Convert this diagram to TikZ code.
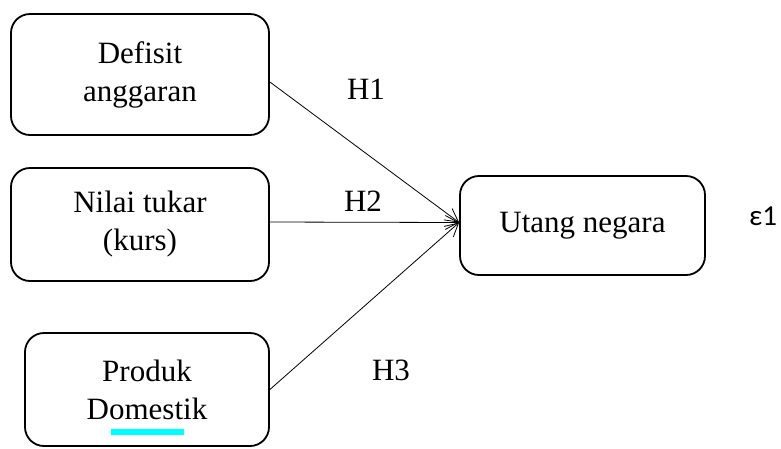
\documentclass[tikz,border=0pt]{standalone}
\usepackage{fontspec}
\setmainfont{Liberation Serif}
\newfontfamily\epsfont{Carlito}
\usetikzlibrary{arrows.meta}
\definecolor{spellmark}{RGB}{0,255,255}

\begin{document}
\begin{tikzpicture}[x=1pt, y=-1pt]
\tikzset{box/.style = {shape=rectangle, draw, line width=1.8pt, rounded corners=19pt, align=center, font=\fontsize{31}{38}\selectfont}}
    \tikzset{edge/.style = {draw=black, line width=0.8pt, -{Straight Barb[length=13pt, width=14pt, line width=0.8pt]}}}
    \tikzset{lbl/.style = {font=\fontsize{31}{38}\selectfont}}
\useasboundingbox (0,0) rectangle (781,448);

% Define the boxes at fixed positions
\node[box, minimum width=258pt, minimum height=121pt] (def) at (140,74.5){Defisit\\anggaran};
\node[box, minimum width=258pt, minimum height=113pt] (kurs) at (140,224.5){Nilai tukar\\(kurs)};
\node[box, minimum width=244pt, minimum height=113pt] (pdb) at (147,389.5){Produk\\Domestik};
\node[box, minimum width=245pt, minimum height=99pt] (utang) at (582.5,225.5){Utang negara};
\node[font=\epsfont\fontsize{29}{34}\selectfont] (eps) at (763,216){ε1};

% Hypothesis labels
\node[lbl] (h1) at (366,89){H1};
\node[lbl] (h2) at (363,201){H2};
\node[lbl] (h3) at (391,370){H3};

% Draw the arrows
\draw[edge] ([yshift=-7.5pt]def.east) to ([yshift=3pt]utang.west);
\draw[edge] ([yshift=2.5pt]kurs.east) to ([yshift=3pt]utang.west);
\draw[edge] (pdb.east) to ([yshift=3pt]utang.west);

\fill[spellmark] (111,429) rectangle (184,435);

\end{tikzpicture}
\end{document}
